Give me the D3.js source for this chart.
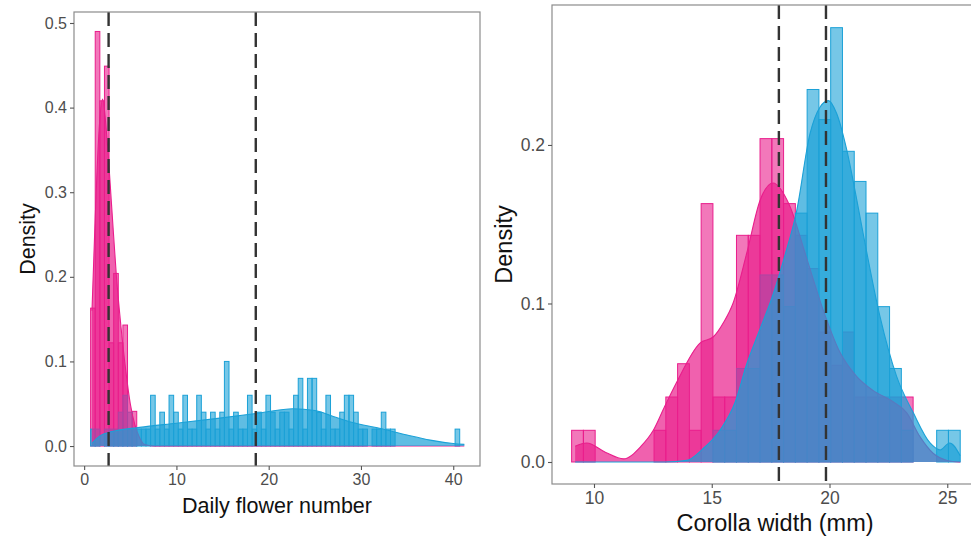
<!DOCTYPE html>
<html>
<head>
<meta charset="utf-8">
<script src="https://cdn.jsdelivr.net/npm/d3@7"></script>
<style>
  html, body { margin: 0; padding: 0; background: #fff; }
  svg { display: block; }
  text { font-family: "Liberation Sans", Arial, sans-serif; }
</style>
</head>
<body>
<svg id="chart" width="971" height="536"></svg>
<script>
// ---- data ----
var pinkColor = "#E91E8C";
var blueColor = "#1BA1D7";
var binWidth = 0.5;

// left panel: daily flower number, bins start at 0.7
var flowerBinStart = 0.7;
var flowerPinkBins = [0.163, 0.49, 0.408, 0.449, 0.122, 0.204, 0.122, 0.143, 0.02, 0.041];
var flowerBlueBins = [
  0.02, 0.02, 0, 0.02, 0.02, 0.02, 0.04, 0.06, 0.04, 0.02,
  0.02, 0.02, 0.02, 0.06, 0.02, 0.04, 0.02, 0.06, 0.04, 0.02,
  0.06, 0.02, 0.02, 0.06, 0.04, 0.02, 0.04, 0.02, 0.04, 0.1,
  0.02, 0.04, 0.02, 0.02, 0.06, 0.02, 0.04, 0.02, 0.06, 0.04,
  0.02, 0.04, 0.04, 0.02, 0.06, 0.08, 0.02, 0.08, 0.08, 0.04,
  0.02, 0.06, 0.02, 0.02, 0.04, 0.06, 0.06, 0.04, 0.02, 0.02,
  0, 0.02, 0.02, 0.04, 0.02, 0.02, 0, 0, 0, 0,
  0, 0, 0, 0, 0, 0, 0, 0, 0, 0.02
];
var flowerPinkDensity = [[0.85, 0.16], [1.2, 0.27], [1.6, 0.37], [2.0, 0.41], [2.5, 0.36], [3.0, 0.28],
  [3.5, 0.2], [4.0, 0.14], [4.5, 0.09], [5.0, 0.05], [5.5, 0.025], [6.0, 0.01], [6.5, 0.002], [7.5, 0], [41.2, 0]];
var flowerBlueDensity = [[0.85, 0.003], [1.7, 0.012], [3, 0.017], [6, 0.022], [10, 0.027], [14.7, 0.033],
  [19, 0.039], [22.6, 0.044], [25, 0.042], [27, 0.035], [29, 0.028], [32, 0.021], [35, 0.013],
  [37.5, 0.007], [40, 0.003], [41.2, 0.002]];
var flowerMeans = [2.65, 18.6];
var flowerXTicks = [0, 10, 20, 30, 40];
var flowerYTicks = [0, 0.1, 0.2, 0.3, 0.4, 0.5];

// right panel: corolla width (mm), bins start at 9.05
var corollaBinStart = 9.05;
var corollaPinkBins = [
  0.02, 0.02, 0, 0, 0, 0, 0, 0.02, 0.041, 0.062,
  0.02, 0.163, 0.041, 0.041, 0.143, 0.143, 0.204, 0.204, 0.163, 0.143,
  0.122, 0.082, 0.061, 0.082, 0.041, 0.041, 0.041, 0.041, 0.041
];
var corollaBlueBins = [
  0, 0, 0, 0, 0, 0, 0, 0, 0, 0,
  0, 0, 0.02, 0.02, 0.059, 0.059, 0.118, 0.118, 0.098, 0.157,
  0.235, 0.216, 0.274, 0.196, 0.177, 0.157, 0.098, 0.059, 0.02, 0,
  0, 0.02, 0.02
];
var corollaPinkDensity = [[9.2, 0.010], [9.69, 0.012], [10.5, 0.006], [11.25, 0.002], [12, 0.01], [12.52, 0.02],
  [13.0, 0.035], [13.5, 0.05], [14.5, 0.075], [15.07, 0.079], [15.5, 0.088], [15.9, 0.1], [16.49, 0.132],
  [17.05, 0.165], [17.6, 0.176], [18.3, 0.162], [19.0, 0.13], [19.73, 0.096], [20.45, 0.069],
  [21.15, 0.054], [21.86, 0.045], [22.7, 0.038], [23.28, 0.031], [23.84, 0.016], [24.4, 0.0055],
  [25.0, 0.001], [25.55, 0]];
var corollaBlueDensity = [[9.2, 0], [13.0, 0], [13.94, 0.001], [14.6, 0.008], [15.35, 0.02], [16.0, 0.038],
  [16.49, 0.062], [17.0, 0.082], [17.61, 0.106], [18.1, 0.13], [18.6, 0.158], [19.17, 0.207],
  [19.6, 0.224], [19.95, 0.228], [20.3, 0.22], [20.73, 0.197], [21.1, 0.17], [21.43, 0.144],
  [22.14, 0.092], [22.85, 0.054], [23.56, 0.031], [24.27, 0.012], [24.7, 0.0076], [25.1, 0.012],
  [25.55, 0.004]];
var corollaMeans = [17.85, 19.85];
var corollaXTicks = [10, 15, 20, 25];
var corollaYTicks = [0, 0.1, 0.2];

var svg = d3.select("#chart");

var toBars = function (heights, start) {
  return heights.map(function (h, i) {
    return { x0: start + i * binWidth, x1: start + (i + 1) * binWidth, y: h };
  }).filter(function (d) { return d.y > 0; });
};

var drawPanel = function (p) {
  var x = d3.scaleLinear().domain(p.xDomain).range([p.left, p.right]);
  var y = d3.scaleLinear().domain(p.yDomain).range([p.bottom, p.top]);
  var g = svg.append("g");

  // clip to the panel
  var clipId = "clip" + p.id;
  svg.append("clipPath").attr("id", clipId).append("rect")
    .attr("x", p.left).attr("y", p.top)
    .attr("width", p.right - p.left).attr("height", p.bottom - p.top);
  var plot = g.append("g").attr("clip-path", "url(#" + clipId + ")");

  // histograms: pink first, blue on top
  [[p.pinkBins, pinkColor], [p.blueBins, blueColor]].forEach(function (s) {
    plot.append("g").selectAll("rect")
      .data(toBars(s[0], p.binStart))
      .enter().append("rect")
      .attr("x", function (d) { return x(d.x0); })
      .attr("y", function (d) { return y(d.y); })
      .attr("width", function (d) { return x(d.x1) - x(d.x0); })
      .attr("height", function (d) { return y(0) - y(d.y); })
      .attr("fill", s[1]).attr("fill-opacity", 0.6)
      .attr("stroke", s[1]).attr("stroke-width", 1);
  });

  // densities
  var area = d3.area()
    .x(function (d) { return x(d[0]); })
    .y0(y(0))
    .y1(function (d) { return y(d[1]); })
    .curve(d3.curveMonotoneX);
  var line = d3.line()
    .x(function (d) { return x(d[0]); })
    .y(function (d) { return y(d[1]); })
    .curve(d3.curveMonotoneX);
  [[p.pinkDensity, pinkColor], [p.blueDensity, blueColor]].forEach(function (s) {
    plot.append("path").datum(s[0])
      .attr("d", area)
      .attr("fill", s[1]).attr("fill-opacity", 0.7).attr("stroke", "none");
    plot.append("path").datum(s[0])
      .attr("d", line)
      .attr("fill", "none").attr("stroke", s[1]).attr("stroke-width", 1.1);
  });

  // mean lines
  plot.selectAll(".mean").data(p.means).enter().append("line")
    .attr("x1", function (d) { return x(d); }).attr("x2", function (d) { return x(d); })
    .attr("y1", p.top).attr("y2", p.bottom)
    .attr("stroke", "#333").attr("stroke-width", 2.4)
    .attr("stroke-dasharray", "14,7");

  // panel border
  g.append("rect")
    .attr("x", p.left).attr("y", p.top)
    .attr("width", p.right - p.left).attr("height", p.bottom - p.top)
    .attr("fill", "none").attr("stroke", "#8c8c8c").attr("stroke-width", 1.2);

  // axes
  var xAxis = g.append("g").attr("transform", "translate(0," + p.bottom + ")")
    .call(d3.axisBottom(x).tickValues(p.xTicks).tickSize(4).tickPadding(4).tickFormat(d3.format("d")));
  var yAxis = g.append("g").attr("transform", "translate(" + p.left + ",0)")
    .call(d3.axisLeft(y).tickValues(p.yTicks).tickSize(4).tickPadding(3).tickFormat(d3.format(".1f")));
  [xAxis, yAxis].forEach(function (a) {
    a.select(".domain").remove();
    a.selectAll("line").attr("stroke", "#555").attr("stroke-width", 1.1);
    a.selectAll("text").attr("fill", "#4d4d4d").attr("font-size", p.tickSize + "px")
      .attr("font-family", "Liberation Sans, Arial, sans-serif");
  });

  // axis titles
  g.append("text")
    .attr("x", p.xTitleX).attr("y", p.xTitleY)
    .attr("text-anchor", "middle").attr("font-size", p.titleSize + "px").attr("fill", "#111")
    .text(p.xTitle);
  g.append("text")
    .attr("transform", "translate(" + p.yTitleX + "," + ((p.top + p.bottom) / 2) + ") rotate(-90)")
    .attr("text-anchor", "middle").attr("font-size", p.titleSize + "px").attr("fill", "#111")
    .text("Density");
};

drawPanel({
  id: "L",
  left: 74, right: 480, top: 12, bottom: 466,
  xDomain: [-1.1, 42.9], yDomain: [-0.0236, 0.513],
  binStart: flowerBinStart,
  pinkBins: flowerPinkBins, blueBins: flowerBlueBins,
  pinkDensity: flowerPinkDensity, blueDensity: flowerBlueDensity,
  means: flowerMeans, xTicks: flowerXTicks, yTicks: flowerYTicks,
  tickSize: 16, titleSize: 21.5,
  xTitle: "Daily flower number", xTitleX: 277, xTitleY: 513, yTitleX: 35
});

drawPanel({
  id: "R",
  left: 552, right: 980, top: 5, bottom: 484,
  xDomain: [8.217, 26.39], yDomain: [-0.01388, 0.2883],
  binStart: corollaBinStart,
  pinkBins: corollaPinkBins, blueBins: corollaBlueBins,
  pinkDensity: corollaPinkDensity, blueDensity: corollaBlueDensity,
  means: corollaMeans, xTicks: corollaXTicks, yTicks: corollaYTicks,
  tickSize: 17.5, titleSize: 23.5,
  xTitle: "Corolla width (mm)", xTitleX: 775, xTitleY: 531, yTitleX: 512
});
</script>
</body>
</html>
